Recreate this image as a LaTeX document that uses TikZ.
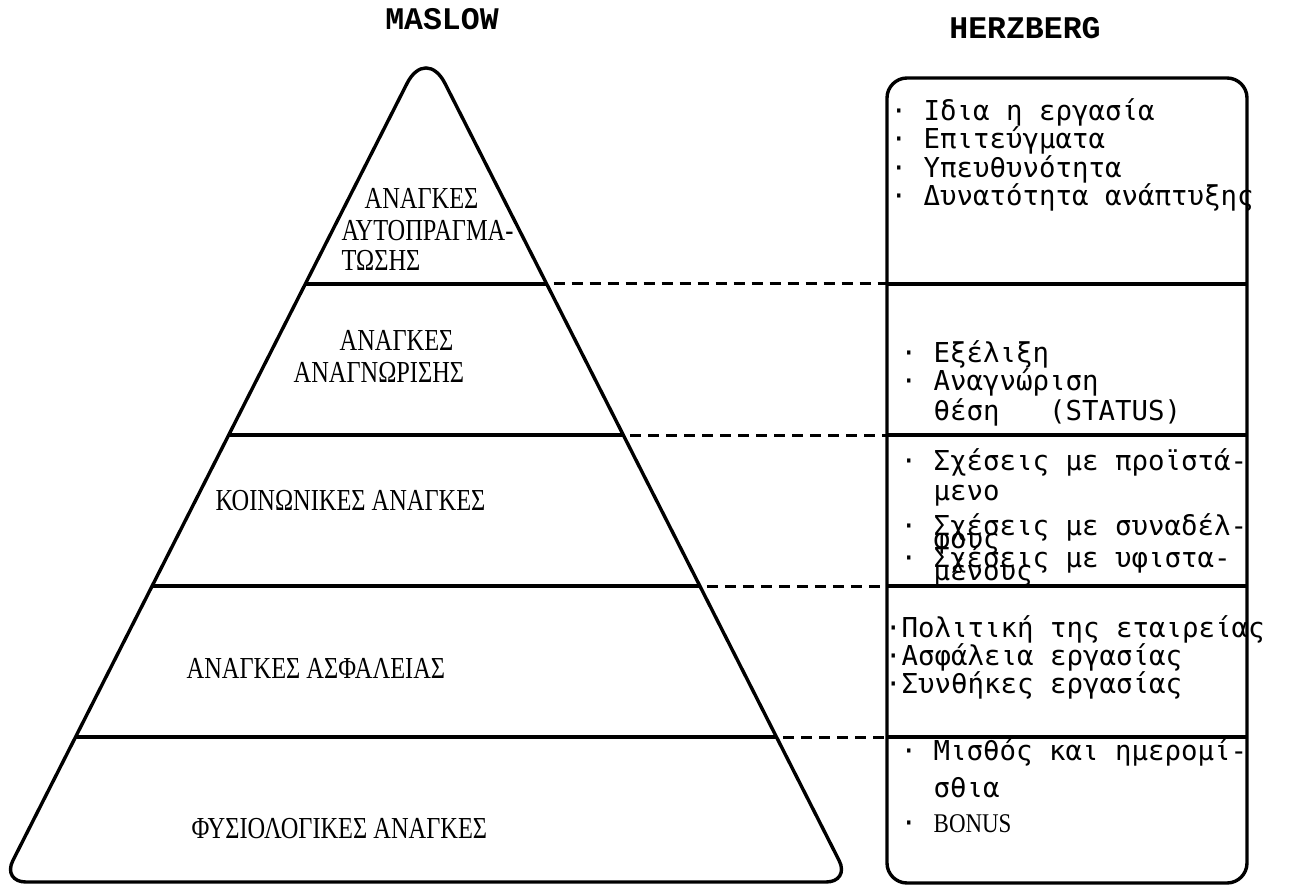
\documentclass[tikz,border=0pt]{standalone}
\usepackage{fontspec}
\newfontfamily\pyrfont[FakeStretch=0.8]{Liberation Serif}
\newfontfamily\bonusfont[FakeStretch=0.85]{Liberation Serif}
\newfontfamily\titlefont{Liberation Mono}
\newfontfamily\hzfont{DejaVu Sans Mono}
\usetikzlibrary{calc}
\begin{document}
\begin{tikzpicture}[x=1pt,y=-1pt,line width=3.4pt,
  pyrlab/.style={font=\pyrfont\fontsize{30.5}{30}\selectfont,inner sep=0pt,anchor=base west},
  hzlab/.style={font=\hzfont\fontsize{27.4}{28}\selectfont,inner sep=0pt,anchor=base west},
  ttl/.style={font=\titlefont\bfseries\fontsize{31.5}{32}\selectfont,inner sep=0pt,anchor=base},
  dashline/.style={dash pattern=on 11pt off 7pt,line width=3pt},
  hbox/.style={draw,rounded corners=20pt,outer sep=0pt,inner sep=0pt,minimum width=360pt,minimum height=805pt}]
\useasboundingbox (0,0) rectangle (1291,886);
% titles
\node[ttl] (maslow) at (442,29) {MASLOW};
\node[ttl] (herz) at (1025,38) {HERZBERG};
% pyramid geometry
\coordinate (apex) at (426,46);
\coordinate (bl) at (2,882);
\coordinate (br) at (850,882);
\coordinate (l1) at ($(apex)!0.28469!(bl)$);
\coordinate (r1) at ($(apex)!0.28469!(br)$);
\coordinate (l2) at ($(apex)!0.46531!(bl)$);
\coordinate (r2) at ($(apex)!0.46531!(br)$);
\coordinate (l3) at ($(apex)!0.64593!(bl)$);
\coordinate (r3) at ($(apex)!0.64593!(br)$);
\coordinate (l4) at ($(apex)!0.82656!(bl)$);
\coordinate (r4) at ($(apex)!0.82656!(br)$);
\draw[rounded corners=42pt] ($(apex)!0.5!(bl)$) -- (apex) -- ($(apex)!0.5!(br)$)
  [rounded corners=24pt] -- (br) -- (bl) -- cycle;
\draw (l1) -- (r1);
\draw (l2) -- (r2);
\draw (l3) -- (r3);
\draw (l4) -- (r4);
% Herzberg box
\node[hbox] (hb) at (1067,480.5) {};
\draw (hb.west |- r1) -- (hb.east |- r1);
\draw (hb.west |- r2) -- (hb.east |- r2);
\draw (hb.west |- r3) -- (hb.east |- r3);
\draw (hb.west |- r4) -- (hb.east |- r4);
% dashed connectors
\coordinate (s1) at ($(r1)+(7,0)$);
\coordinate (s2) at ($(r2)+(7,0)$);
\coordinate (s3) at ($(r3)+(7,0)$);
\coordinate (s4) at ($(r4)+(7,0)$);
\draw[dashline] (s1) -- (hb.west |- r1);
\draw[dashline] (s2) -- (hb.west |- r2);
\draw[dashline] (s3) -- (hb.west |- r3);
\draw[dashline] (s4) -- (hb.west |- r4);
% pyramid labels
\node[pyrlab] (a1) at (363,208) {ΑΝΑΓΚΕΣ};
\node[pyrlab] (a2) at (340,240) {ΑΥΤΟΠΡΑΓΜΑ-};
\node[pyrlab] (a3) at (340,270) {ΤΩΣΗΣ};
\node[pyrlab] (b1) at (338,350) {ΑΝΑΓΚΕΣ};
\node[pyrlab] (b2) at (292,382) {ΑΝΑΓΝΩΡΙΣΗΣ};
\node[pyrlab] (c1) at (214,510) {ΚΟΙΝΩΝΙΚΕΣ ΑΝΑΓΚΕΣ};
\node[pyrlab] (d1) at (185,678) {ΑΝΑΓΚΕΣ ΑΣΦΑΛΕΙΑΣ};
\node[pyrlab] (e1) at (190,838) {ΦΥΣΙΟΛΟΓΙΚΕΣ ΑΝΑΓΚΕΣ};
% Herzberg texts
\node[hzlab] (h11) at (889,120) {· Ιδια η εργασία};
\node[hzlab] (h12) at (889,148) {· Επιτεύγματα};
\node[hzlab] (h13) at (889,177) {· Υπευθυνότητα};
\node[hzlab] (h14) at (889,205) {· Δυνατότητα ανάπτυξης};
\node[hzlab] (h21) at (899,362) {· Εξέλιξη};
\node[hzlab] (h22) at (899,390) {· Αναγνώριση};
\node[hzlab] (h23) at (932,420) {θέση~~~(STATUS)};
\node[hzlab] (h31) at (899,470) {· Σχέσεις με προϊστά-};
\node[hzlab] (h32) at (932,500) {μενο};
\node[hzlab] (h33) at (899,535) {· Σχέσεις με συναδέλ-};
\node[hzlab] (h34) at (932,548) {φους};
\node[hzlab] (h35) at (899,567) {· Σχέσεις με υφιστα-};
\node[hzlab] (h36) at (932,580) {μένους};
\node[hzlab] (h41) at (883.5,637) {·Πολιτική της εταιρείας};
\node[hzlab] (h42) at (883.5,665) {·Ασφάλεια εργασίας};
\node[hzlab] (h43) at (883.5,693) {·Συνθήκες εργασίας};
\node[hzlab] (h51) at (899,760) {· Μισθός και ημερομί-};
\node[hzlab] (h52) at (932,797) {σθια};
\node[hzlab] (h53) at (899,832) {· {\bonusfont\fontsize{27}{27}\selectfont BONUS}};
\end{tikzpicture}
\end{document}
